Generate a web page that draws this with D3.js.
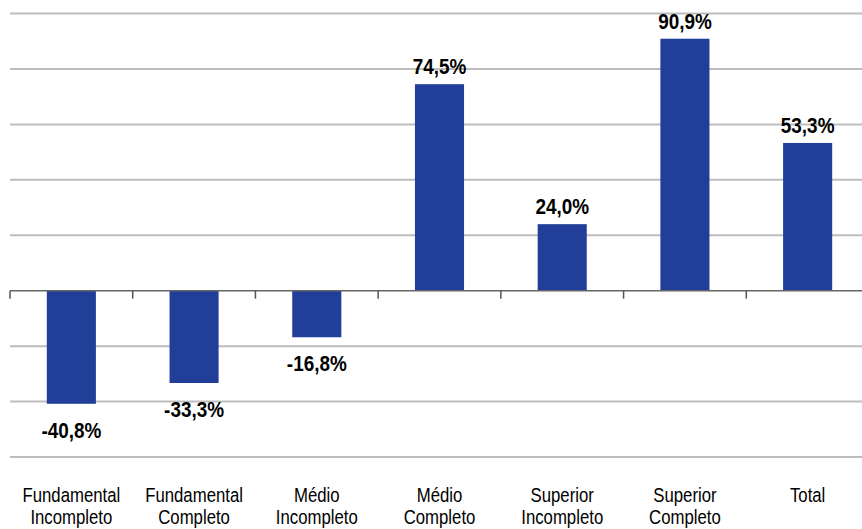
<!DOCTYPE html>
<html>
<head>
    <meta charset="utf-8">
    <title>Variação por escolaridade</title>
    <script src="https://cdn.jsdelivr.net/npm/d3@7"></script>
    <style>
        body { margin: 0; background: #fff; }
        svg { display: block; }
        text { font-family: "Liberation Sans Narrow", "Arial Narrow", "Liberation Sans", Arial, sans-serif; }
    </style>
</head>
<body>
    <svg width="862" height="529" id="mainsvg"></svg>
    <script>
        const categories = [
            ['Fundamental', 'Incompleto'],
            ['Fundamental', 'Completo'],
            ['Médio', 'Incompleto'],
            ['Médio', 'Completo'],
            ['Superior', 'Incompleto'],
            ['Superior', 'Completo'],
            ['Total']
        ];
        const values = [-40.8, -33.3, -16.8, 74.5, 24.0, 90.9, 53.3];
        const gridTicks = [-60, -40, -20, 20, 40, 60, 80, 100];

        const svg = d3.select('svg');
        const margin = { top: 13.5, left: 10 };
        const plotRight = 869;
        const plotBottom = 457;
        const squeeze = 0.86; // narrow font look

        const xScale = d3.scaleBand()
            .domain(d3.range(categories.length))
            .range([margin.left, plotRight])
            .paddingInner(0.6)
            .paddingOuter(0.3);

        const yScale = d3.scaleLinear()
            .domain([-60, 100])
            .range([plotBottom, margin.top]);

        const cx = i => xScale(i) + xScale.bandwidth() / 2;

        // gridlines
        svg.append('g')
            .selectAll('line')
            .data(gridTicks)
            .join('line')
            .attr('x1', margin.left)
            .attr('x2', 862)
            .attr('y1', d => yScale(d))
            .attr('y2', d => yScale(d))
            .attr('stroke', '#bdbdbd')
            .attr('stroke-width', 2);

        // bars
        svg.append('g')
            .selectAll('rect')
            .data(values)
            .join('rect')
            .attr('x', (d, i) => xScale(i))
            .attr('width', xScale.bandwidth())
            .attr('y', d => yScale(Math.max(0, d)))
            .attr('height', d => Math.abs(yScale(d) - yScale(0)))
            .attr('fill', '#213f98');

        // zero axis with category ticks
        const step = xScale.step();
        const tickXs = d3.range(categories.length).map(i => margin.left + i * step);
        const axis = svg.append('g');
        axis.append('line')
            .attr('x1', margin.left)
            .attr('x2', 862)
            .attr('y1', yScale(0))
            .attr('y2', yScale(0))
            .attr('stroke', '#666')
            .attr('stroke-width', 1.5);
        axis.selectAll('.tick')
            .data(tickXs)
            .join('line')
            .attr('class', 'tick')
            .attr('x1', d => d)
            .attr('x2', d => d)
            .attr('y1', yScale(0))
            .attr('y2', yScale(0) + 8)
            .attr('stroke', '#555')
            .attr('stroke-width', 1.5);

        // value labels
        const fmt = v => v.toFixed(1).replace('.', ',') + '%';
        svg.append('g')
            .selectAll('text')
            .data(values)
            .join('text')
            .attr('transform', (d, i) => `translate(${cx(i)}, ${d >= 0 ? yScale(d) - 10 : yScale(d) + 34}) scale(${squeeze}, 1)`)
            .attr('text-anchor', 'middle')
            .attr('font-size', '22px')
            .attr('font-weight', 'bold')
            .attr('fill', '#000')
            .text(d => fmt(d));

        // category labels
        const catGroup = svg.append('g');
        categories.forEach((lines, i) => {
            const t = catGroup.append('text')
                .attr('transform', `translate(${cx(i)}, 502) scale(${squeeze}, 1)`)
                .attr('text-anchor', 'middle')
                .attr('font-size', '19.5px')
                .attr('fill', '#000');
            lines.forEach((l, j) => {
                t.append('tspan')
                    .attr('x', 0)
                    .attr('dy', j === 0 ? 0 : 22)
                    .text(l);
            });
        });
    </script>
</body>
</html>
